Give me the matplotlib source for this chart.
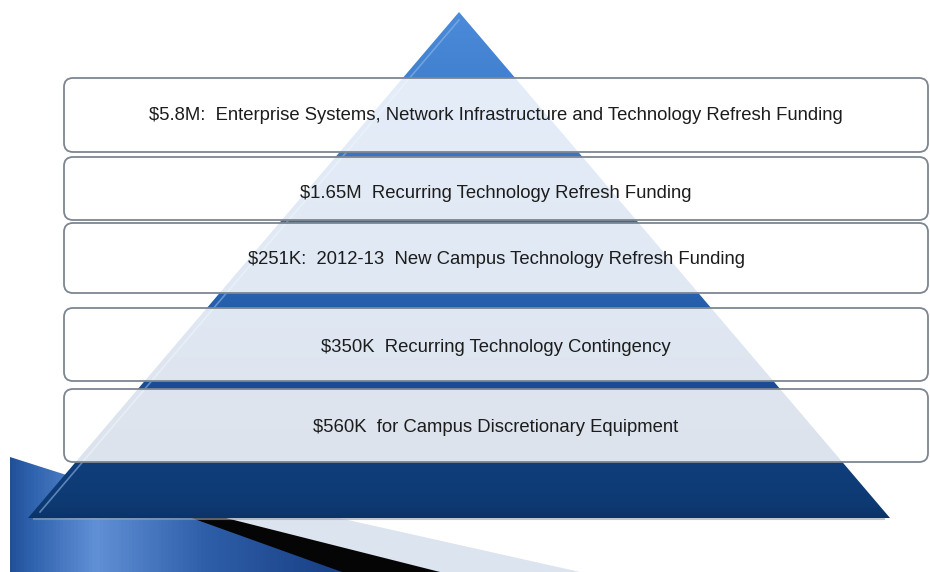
import numpy as np
import matplotlib.pyplot as plt
from matplotlib.patches import Polygon, FancyBboxPatch
from matplotlib.colors import LinearSegmentedColormap

plt.rcParams['font.family'] = ['Liberation Sans', 'DejaVu Sans']

# Pyramid tiers, top to bottom
labels = [
    "$5.8M:  Enterprise Systems, Network Infrastructure and Technology Refresh Funding",
    "$1.65M  Recurring Technology Refresh Funding",
    "$251K:  2012-13  New Campus Technology Refresh Funding",
    "$350K  Recurring Technology Contingency",
    "$560K  for Campus Discretionary Equipment",
]
box_top = [78, 157, 223, 308, 389]
box_bottom = [152, 220, 293, 381, 462]
label_y = [116, 194, 259, 347, 427]

W, H = 930, 572
fig = plt.figure(figsize=(W / 100, H / 100), dpi=100)
ax = fig.add_axes([0, 0, 1, 1])
ax.set_xlim(0, W)
ax.set_ylim(H, 0)
ax.axis('off')


def gradient_fill(poly, colors, stops, horizontal=False, z=1):
    cmap = LinearSegmentedColormap.from_list('g', list(zip(stops, colors)))
    g = np.linspace(0, 1, 256)
    arr = g[np.newaxis, :] if horizontal else g[:, np.newaxis]
    im = ax.imshow(arr, cmap=cmap, extent=(0, W, H, 0), aspect='auto',
                   interpolation='bilinear', zorder=z)
    ax.add_patch(poly)
    poly.set_visible(False)
    im.set_clip_path(poly)


# bottom-left decoration
blue_shape = Polygon([(10, 457), (195, 516), (350, 572), (10, 572)], closed=True,
                     transform=ax.transData)
gradient_fill(blue_shape, ['#1d4a92', '#2f62ad', '#6190d6', '#2e5ea8', '#1a4288', '#1a4288'],
              [0, 0.03, 0.10, 0.22, 0.35, 1], horizontal=True, z=1)
ax.add_patch(Polygon([(215, 516), (330, 516), (580, 572), (435, 572)],
                     closed=True, color='#dce4ef', zorder=1.2, lw=0))
ax.add_patch(Polygon([(186, 516), (218, 516), (440, 572), (342, 572)],
                     closed=True, color='#050505', zorder=1.5, lw=0))

# pyramid
apex = (459, 12)
base_l, base_r, base_y = 28, 890, 518
tri = Polygon([apex, (base_r, base_y), (base_l, base_y)], closed=True,
              transform=ax.transData)
gradient_fill(tri, ['#5497e2', '#4a8ad8', '#3775c5', '#2760ad', '#1b4c95', '#0f3e7b',
                    '#0e3a73', '#0b3367', '#0b3367'],
              [0, 0.03, 0.27, 0.52, 0.67, 0.81, 0.88, 0.91, 1], z=2)
# bevel highlight on left edge
ax.plot([459, 40], [20, 512], color='#8fb8ea', lw=1.2, alpha=0.6, zorder=2.2)
ax.plot([base_l + 6, base_r - 6], [base_y + 1, base_y + 1], color='#9aa3ad',
        lw=1.5, alpha=0.6, zorder=1.9)

# tier boxes
for lab, t, b, ty in zip(labels, box_top, box_bottom, label_y):
    box = FancyBboxPatch((64, t), 928 - 64, b - t,
                         boxstyle='round,pad=0,rounding_size=9',
                         facecolor='white', alpha=0.86, edgecolor='none', zorder=3)
    ax.add_patch(box)
    edge = FancyBboxPatch((64, t), 928 - 64, b - t,
                          boxstyle='round,pad=0,rounding_size=9',
                          facecolor='none', edgecolor='#7d8690', lw=1.3, zorder=3.1)
    ax.add_patch(edge)
    ax.text(496, ty, lab, ha='center', va='center', fontsize=13.3,
            color='#1c1c1c', zorder=4)

fig.savefig('out.png', dpi=100)
